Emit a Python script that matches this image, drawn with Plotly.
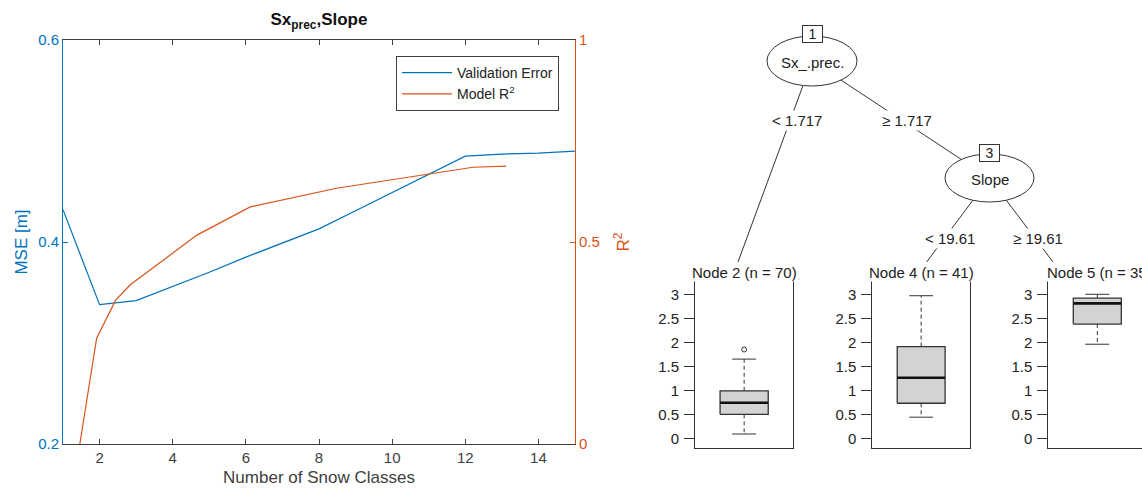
import plotly.graph_objects as go

# ---------------- data ----------------
# Left panel: error / fit against the number of snow classes
snow_classes = [1, 2, 3, 4, 5, 6, 7, 8, 9, 10, 11, 12, 13, 14, 15]
validation_mse = [0.432, 0.338, 0.342, 0.356, 0.370, 0.385, 0.399, 0.413,
                  0.431, 0.449, 0.467, 0.485, 0.487, 0.488, 0.490]
r2_x = [1.46, 1.92, 2.44, 2.84, 4.66, 6.12, 8.48, 11.76, 12.21, 13.12]
model_r2 = [0.0, 0.262, 0.356, 0.394, 0.517, 0.587, 0.633, 0.680, 0.685, 0.688]
x_ticks = [2, 4, 6, 8, 10, 12, 14]

# Right panel: regression tree splits and terminal node distributions
split_vars = ["Sx_.prec.", "Slope"]
split_values = ["1.717", "19.61"]
node_ids = [2, 4, 5]
node_n = [70, 41, 35]
whisker_low = [0.09, 0.44, 1.96]
q1 = [0.50, 0.73, 2.38]
median = [0.74, 1.26, 2.81]
q3 = [0.99, 1.91, 2.92]
whisker_high = [1.65, 2.97, 3.00]
outliers = [[1.85], [], []]
box_ticks = [0, 0.5, 1, 1.5, 2, 2.5, 3]
box_ticktext = ["0", "0.5", "1", "1.5", "2", "2.5", "3"]

# ---------------- layout helpers ----------------
W, H = 1142, 497
BLUE = "#0072BD"
ORANGE = "#D95319"
AXGRAY = "#404040"
INK = "#333333"
FONT = "Liberation Sans, Arial, sans-serif"


def px(x):
    return x / W


def py(y):
    return 1 - y / H


fig = go.Figure()

# ---------------- line chart ----------------
fig.add_trace(go.Scatter(x=snow_classes, y=validation_mse, mode="lines",
                         name="Validation Error", line=dict(color=BLUE, width=1.2),
                         xaxis="x", yaxis="y"))
fig.add_trace(go.Scatter(x=r2_x, y=model_r2, mode="lines",
                         name="Model R<sup>2</sup>", line=dict(color=ORANGE, width=1.2),
                         xaxis="x", yaxis="y2"))

# ---------------- terminal node boxplots ----------------
box_l, box_r = 0.255, 0.745
cap_l, cap_r = 0.378, 0.622
mid = 0.5
panel_axes = [("x2", "y3"), ("x3", "y4"), ("x4", "y5")]
for i, (xa, ya) in enumerate(panel_axes):
    # dashed whiskers
    fig.add_trace(go.Scatter(x=[mid, mid, None, mid, mid],
                             y=[q3[i], whisker_high[i], None, q1[i], whisker_low[i]],
                             mode="lines", line=dict(color=INK, width=1, dash="4px,3px"),
                             showlegend=False, xaxis=xa, yaxis=ya))
    # whisker caps
    fig.add_trace(go.Scatter(x=[cap_l, cap_r, None, cap_l, cap_r],
                             y=[whisker_high[i], whisker_high[i], None,
                                whisker_low[i], whisker_low[i]],
                             mode="lines", line=dict(color=INK, width=1),
                             showlegend=False, xaxis=xa, yaxis=ya))
    # interquartile box
    fig.add_trace(go.Scatter(x=[box_l, box_r, box_r, box_l, box_l],
                             y=[q1[i], q1[i], q3[i], q3[i], q1[i]],
                             mode="lines", fill="toself", fillcolor="#D3D3D3",
                             line=dict(color=INK, width=1.3),
                             showlegend=False, xaxis=xa, yaxis=ya))
    # median
    fig.add_trace(go.Scatter(x=[box_l, box_r], y=[median[i], median[i]],
                             mode="lines", line=dict(color="#111111", width=2.6),
                             showlegend=False, xaxis=xa, yaxis=ya))
    if outliers[i]:
        fig.add_trace(go.Scatter(x=[mid] * len(outliers[i]), y=outliers[i],
                                 mode="markers",
                                 marker=dict(symbol="circle-open", size=5,
                                             color=INK, line=dict(width=1)),
                                 showlegend=False, xaxis=xa, yaxis=ya))

# ---------------- axes ----------------
chart_x = [px(63), px(575)]
chart_y = [py(444), py(40)]

layout = dict(
    width=W, height=H,
    margin=dict(l=0, r=0, t=0, b=0),
    paper_bgcolor="white", plot_bgcolor="white",
    font=dict(family=FONT, color=AXGRAY),
    title=dict(text="<b>Sx<sub>prec</sub>,Slope</b>", x=px(319), y=py(19),
               xanchor="center", yanchor="middle",
               font=dict(family=FONT, size=17, color="#111111")),
    showlegend=True,
    legend=dict(x=px(396), y=py(56), xanchor="left", yanchor="top",
                bgcolor="white", bordercolor=AXGRAY, borderwidth=1,
                itemwidth=50,
                font=dict(family=FONT, size=14, color="#222222"),
                tracegroupgap=2),
    xaxis=dict(domain=chart_x, range=[1, 15], tickvals=x_ticks,
               ticks="inside", ticklen=5, tickcolor=AXGRAY,
               showline=True, linecolor=AXGRAY, linewidth=1, mirror="ticks",
               showgrid=False, zeroline=False, anchor="y",
               tickfont=dict(family=FONT, size=15, color=AXGRAY),
               title=dict(text="Number of Snow Classes", standoff=6,
                          font=dict(family=FONT, size=17, color=AXGRAY)),
               automargin=False),
    yaxis=dict(domain=chart_y, range=[0.2, 0.6], tickvals=[0.2, 0.4, 0.6],
               ticks="inside", ticklen=5, tickcolor=BLUE,
               showline=True, linecolor=BLUE, linewidth=1,
               showgrid=False, zeroline=False, anchor="x",
               tickfont=dict(family=FONT, size=15, color=BLUE),
               title=dict(text="MSE [m]", standoff=6,
                          font=dict(family=FONT, size=17, color=BLUE)),
               automargin=False),
    yaxis2=dict(domain=chart_y, range=[0, 1], tickvals=[0, 0.5, 1],
                ticktext=["0", "0.5", "1"],
                overlaying="y", side="right", anchor="x",
                ticks="inside", ticklen=5, tickcolor=ORANGE,
                showline=True, linecolor=ORANGE, linewidth=1,
                showgrid=False, zeroline=False,
                tickfont=dict(family=FONT, size=15, color=ORANGE),
                title=dict(text="R<sup>2</sup>", standoff=18,
                           font=dict(family=FONT, size=17, color=ORANGE)),
                automargin=False),
)

panel_x = [[px(695), px(793.3)], [px(872.3), px(970)], [px(1048.3), 1.0]]
panel_y = [py(448.3), py(280.7)]
panel_range_y = [-0.208, 3.283]
panel_w = 98.0
for i in range(3):
    xname = "xaxis%d" % (i + 2)
    yname = "yaxis%d" % (i + 3)
    xr = [0, 1] if i < 2 else [0, (W - 1048.3) / panel_w]
    layout[xname] = dict(domain=panel_x[i], range=xr, anchor="y%d" % (i + 3),
                         showticklabels=False, ticks="", showgrid=False,
                         zeroline=False, showline=True, linecolor=INK,
                         linewidth=1, mirror=True, fixedrange=True)
    layout[yname] = dict(domain=panel_y, range=panel_range_y,
                         anchor="x%d" % (i + 2),
                         tickvals=box_ticks, ticktext=box_ticktext,
                         ticks="outside", ticklen=10, tickcolor=INK,
                         ticklabelstandoff=2,
                         tickfont=dict(family=FONT, size=15, color="#222222"),
                         showgrid=False, zeroline=False, showline=True,
                         linecolor=INK, linewidth=1, mirror=(i < 2),
                         fixedrange=True, automargin=False)

fig.update_layout(**layout)

# ---------------- tree skeleton ----------------
node1 = (812, 61)
node3 = (989.5, 178)
leaf_tops = [(738, 262), (926.7, 262), (1053, 262)]

shapes = []
edges = [(node1, leaf_tops[0]), (node1, node3),
         (node3, leaf_tops[1]), (node3, leaf_tops[2])]
for (a, b) in edges:
    shapes.append(dict(type="line", xref="paper", yref="paper",
                       x0=px(a[0]), y0=py(a[1]), x1=px(b[0]), y1=py(b[1]),
                       line=dict(color=INK, width=1), layer="above"))
for (cx, cy), rx, ry in [(node1, 45, 25), (node3, 44.5, 24)]:
    shapes.append(dict(type="circle", xref="paper", yref="paper",
                       x0=px(cx - rx), x1=px(cx + rx),
                       y0=py(cy + ry), y1=py(cy - ry),
                       fillcolor="white", line=dict(color=INK, width=1),
                       layer="above"))
fig.update_layout(shapes=shapes)

ann = []
tree_font = dict(family=FONT, size=15, color="#222222")
# node ids in small boxes
for (cx, cy), nid in [((812.5, 34.5), 1), ((989, 152.5), 3)]:
    ann.append(dict(x=px(cx), y=py(cy), xref="paper", yref="paper",
                    xanchor="center", yanchor="middle",
                    text=str(nid), showarrow=False, width=17, height=14,
                    bgcolor="white", bordercolor=INK, borderwidth=1, borderpad=1,
                    font=dict(family=FONT, size=14, color="#222222")))
# split variable names
for (cx, cy), name in [((812, 62), split_vars[0]), ((989.5, 180), split_vars[1])]:
    ann.append(dict(x=px(cx), y=py(cy), xref="paper", yref="paper",
                    xanchor="center", yanchor="middle",
                    text=name, showarrow=False, font=tree_font))
# edge labels
edge_labels = [((797, 120), "< " + split_values[0]),
               ((907, 120), "\u2265 " + split_values[0]),
               ((950, 238), "< " + split_values[1]),
               ((1038, 238), "\u2265 " + split_values[1])]
for (cx, cy), t in edge_labels:
    ann.append(dict(x=px(cx), y=py(cy), xref="paper", yref="paper",
                    xanchor="center", yanchor="middle",
                    text=t, showarrow=False, bgcolor="white", borderpad=1,
                    font=tree_font))
# terminal node headers
header_pos = [(744, "center"), (921, "center"), (1046, "left")]
for i, (hx, anchor) in enumerate(header_pos):
    ann.append(dict(x=px(hx), y=py(272), xref="paper", yref="paper",
                    xanchor=anchor, yanchor="middle",
                    text="Node %d (n = %d)" % (node_ids[i], node_n[i]),
                    showarrow=False, bgcolor="white",
                    borderpad=0, font=tree_font))
fig.update_layout(annotations=ann)

fig.write_html("out.html")
